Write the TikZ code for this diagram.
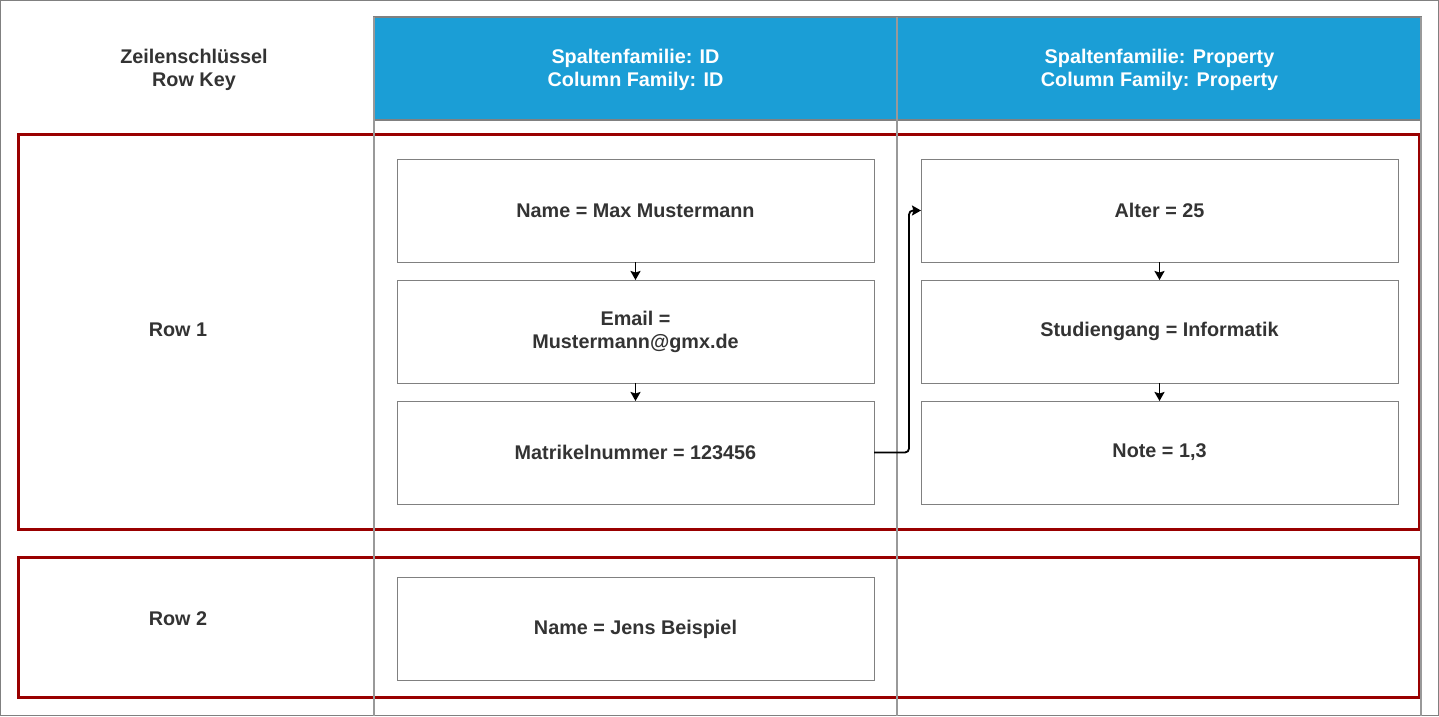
\documentclass[tikz,border=0pt]{standalone}
\usepackage{fontspec}
\setmainfont{Liberation Sans}
\usetikzlibrary{arrows.meta}
\usetikzlibrary{positioning}
\definecolor{hdrblue}{RGB}{27,158,214}
\definecolor{rowred}{RGB}{153,0,0}
\definecolor{txtgray}{RGB}{51,51,51}
\definecolor{divgray}{RGB}{153,153,153}
\definecolor{boxgray}{RGB}{128,128,128}
\tikzset{
  every node/.style={font=\fontsize{19.8}{23}\selectfont\bfseries,text=txtgray,align=center},
  cell/.style={draw=boxgray,line width=1pt,minimum width=477pt,minimum height=103pt,inner sep=0pt,outer sep=0pt},
  rowframe/.style={draw=rowred,line width=3pt},
  divider/.style={draw=divgray,line width=1.8pt},
  link/.style={line width=1.8pt,->,>={Stealth[length=9pt,width=10pt,inset=1.5pt]}}
}

\begin{document}
\begin{tikzpicture}[x=1pt,y=-1pt]
\useasboundingbox (0,0) rectangle (1439,716);
\draw[draw=boxgray,line width=1.2pt] (0.6,0.6) rectangle (1438.4,715.4);
% header
\draw[draw=boxgray,fill=hdrblue,line width=1.2pt] (374,17) rectangle (1421,120);
\node (rowkey) at (194,70) {Zeilenschlüssel\\Row Key};
\node[text=white] (cfid) at (635.5,70) {Spaltenfamilie: ID\\Column Family: ID};
\node[text=white] (cfprop) at (1159.5,70) {Spaltenfamilie: Property\\Column Family: Property};
% rows
\draw[rowframe] (18.5,134) rectangle (1419,529);
\draw[rowframe] (18.5,557) rectangle (1419,697);
\draw[divider] (374,17) -- (374,716);
\draw[divider] (897,17) -- (897,716);
\draw[divider] (1421,17) -- (1421,716);
\node (row1) at (178,330) {Row 1};
\node (row2) at (178,619) {Row 2};
% column family ID
\node[cell] (name) at (635.5,210.5) {Name = Max Mustermann};
\node[cell,below=18pt of name] (email) {Email =\\Mustermann@gmx.de};
\node[cell,below=18pt of email] (matnr) {Matrikelnummer = 123456};
\node[cell] (name2) at (635.5,629) {Name = Jens Beispiel};
% column family Property
\node[cell] (alter) at (1159.5,210.5) {Alter = 25};
\node[cell,below=18pt of alter] (studium) {Studiengang = Informatik};
\node[cell,below=18pt of studium] (note) {Note = 1,3};
% links
\draw[link] (name) -- (email);
\draw[link] (email) -- (matnr);
\draw[link] (alter) -- (studium);
\draw[link] (studium) -- (note);
\draw[link,rounded corners=4pt] (matnr.east) -- ++(35,0) |- (alter.west);
\end{tikzpicture}
\end{document}
